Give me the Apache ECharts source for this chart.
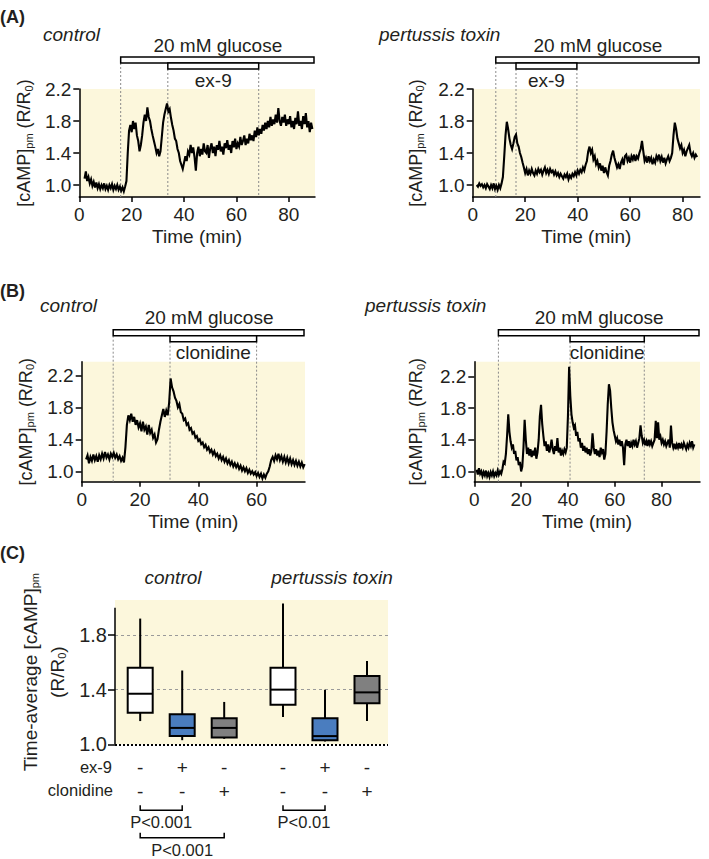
<!DOCTYPE html>
<html><head><meta charset="utf-8">
<script src="https://cdn.jsdelivr.net/npm/echarts@6/dist/echarts.min.js"></script>
<style>html,body{margin:0;padding:0;background:#fff}#c{width:709px;height:859px}</style>
</head><body><div id="c"></div>
<script>
// ---------- DATA ----------
// Panel A, control (time in min, sampled every 0.5 min)
const aCtrlT0 = 2, aCtrlDt = 0.5;
const aCtrlVals = [1.08,1.17,1.05,1.10,1.02,1.07,0.99,1.04,0.97,1.03,0.96,1.01,0.95,1.00,0.96,1.02,0.95,0.99,0.94,1.00,0.96,1.01,0.94,0.99,0.95,1.00,0.94,0.98,0.93,
0.97,0.92,0.98,1.05,
1.40,1.68,1.75,1.66,1.80,1.70,1.78,1.62,1.55,1.42,1.50,1.62,1.78,1.88,1.80,1.97,1.85,1.80,1.70,1.62,1.55,1.48,1.40,1.45,
1.36,1.42,1.60,1.78,1.88,1.95,2.02,1.92,1.95,1.84,1.75,1.68,1.58,1.55,1.45,1.40,1.30,1.25,1.20,1.28,
1.36,1.30,1.42,1.38,1.50,1.40,1.47,1.35,1.18,1.40,1.48,1.36,1.45,1.38,1.52,1.42,1.40,1.50,1.34,1.46,
1.52,1.40,1.48,1.36,1.50,1.44,1.55,1.42,1.48,1.38,1.52,1.46,1.56,1.44,1.50,1.40,1.55,1.47,1.58,1.45,
1.52,1.48,1.60,1.50,1.55,1.62,1.50,1.58,1.52,1.64,1.56,1.62,1.55,1.68,1.60,1.72,1.62,1.70,1.64,1.75,
1.68,1.78,1.70,1.80,1.72,1.85,1.74,1.82,1.76,1.88,1.78,1.96,1.80,1.74,1.85,1.78,1.88,1.74,1.82,1.76,
1.86,1.72,1.80,1.70,1.84,1.76,1.92,1.74,1.80,1.70,1.86,1.76,1.90,1.72,1.80,1.66,1.78,1.70];
const aCtrlGlucose = [15.8, 90];
const aCtrlEx9 = [33.8, 68.5];

// Panel A, pertussis toxin
const aPtxT0 = 1.5, aPtxDt = 0.5;
const aPtxVals = [1.00,0.98,1.02,0.99,1.01,0.97,1.00,0.96,1.01,0.98,0.95,1.00,0.96,1.02,0.95,0.99,0.94,1.00,0.96,1.02,
1.10,1.35,1.62,1.79,1.70,1.58,1.50,1.45,1.52,1.60,1.63,1.52,1.48,1.40,1.35,1.28,1.22,1.15,1.20,1.12,
1.18,1.14,1.20,1.15,1.12,1.18,1.14,1.20,1.16,1.19,1.13,1.18,1.22,1.15,1.19,1.14,1.20,1.16,1.18,1.13,
1.17,1.12,1.15,1.10,1.14,1.11,1.08,1.13,1.10,1.14,1.07,1.12,1.09,1.14,1.11,1.16,1.12,1.18,1.14,1.19,
1.16,1.22,1.18,1.25,1.30,1.42,1.48,1.40,1.44,1.32,1.36,1.26,1.30,1.22,1.27,1.18,1.24,1.15,1.22,1.16,
1.12,1.24,1.30,1.38,1.43,1.34,1.28,1.22,1.26,1.20,1.28,1.32,1.25,1.36,1.38,1.30,1.34,1.28,1.36,1.32,
1.38,1.30,1.36,1.33,1.40,1.45,1.55,1.42,1.30,1.34,1.28,1.36,1.30,1.34,1.26,1.32,1.28,1.36,1.32,1.38,
1.30,1.35,1.28,1.34,1.27,1.32,1.36,1.30,1.34,1.40,1.62,1.78,1.70,1.58,1.52,1.46,1.50,1.40,1.44,1.36,
1.42,1.46,1.50,1.40,1.36,1.40,1.34,1.38,1.35];
const aPtxGlucose = [8.8, 86.6];
const aPtxEx9 = [16.5, 39.7];

// Panel B, control
const bCtrlT0 = 1.5, bCtrlDt = 0.5;
const bCtrlVals = [1.15,1.20,1.10,1.18,1.13,1.21,1.14,1.19,1.12,1.20,1.15,1.22,1.16,1.24,1.17,1.21,1.15,1.22,1.18,1.23,
1.17,1.21,1.15,1.19,1.13,1.17,1.11,1.30,1.58,1.70,1.64,1.72,1.62,1.68,1.58,1.64,1.55,1.60,1.50,1.62,
1.52,1.56,1.46,1.58,1.48,1.52,1.42,1.46,1.36,1.40,1.52,1.62,1.70,1.78,1.68,1.76,1.70,1.86,2.16,2.05,
2.00,1.92,1.88,1.80,1.84,1.74,1.72,1.64,1.66,1.58,1.60,1.52,1.54,1.47,1.49,1.42,1.44,1.38,1.40,1.34,
1.36,1.30,1.33,1.27,1.30,1.24,1.27,1.21,1.25,1.19,1.22,1.16,1.20,1.14,1.18,1.12,1.16,1.10,1.14,1.08,
1.12,1.06,1.10,1.05,1.09,1.03,1.07,1.01,1.05,1.00,1.04,0.98,1.02,0.97,1.00,0.96,0.99,0.94,0.98,0.93,
0.97,0.91,0.96,0.92,0.97,1.00,1.06,1.14,1.18,1.13,1.20,1.15,1.22,1.14,1.19,1.12,1.18,1.11,1.17,1.10,
1.16,1.09,1.14,1.08,1.13,1.07,1.12,1.06,1.11,1.05,1.09];
const bCtrlGlucose = [10.8, 76.6];
const bCtrlClon = [30.3, 60.0];

// Panel B, pertussis toxin
const bPtxT0 = 1, bPtxDt = 0.5;
const bPtxVals = [1.02,0.96,1.04,0.97,1.00,0.94,0.99,0.95,1.01,0.94,0.98,0.93,0.99,0.95,1.00,0.94,0.98,0.95,1.01,0.96,
1.00,0.97,1.03,1.12,1.10,1.22,1.45,1.72,1.50,1.38,1.30,1.34,1.22,1.26,1.14,1.18,1.08,1.12,1.00,1.06,
1.30,1.65,1.40,1.22,1.30,1.20,1.28,1.18,1.26,1.20,1.30,1.16,1.24,1.40,1.70,1.84,1.60,1.45,1.32,1.38,
1.26,1.34,1.24,1.30,1.40,1.28,1.22,1.32,1.26,1.42,1.24,1.30,1.20,1.26,1.22,1.28,1.24,1.30,1.70,2.32,
1.95,1.72,1.62,1.55,1.58,1.45,1.50,1.38,1.42,1.30,1.36,1.26,1.32,1.24,1.30,1.22,1.28,1.20,1.26,1.48,
1.30,1.22,1.28,1.20,1.26,1.18,1.30,1.24,1.28,1.15,1.22,1.50,1.85,2.10,2.02,1.80,1.62,1.52,1.45,1.38,
1.42,1.34,1.40,1.32,1.38,1.30,1.08,1.34,1.40,1.32,1.38,1.30,1.36,1.32,1.40,1.34,1.38,1.30,1.36,1.42,
1.58,1.45,1.36,1.40,1.33,1.38,1.32,1.40,1.34,1.38,1.32,1.36,1.40,1.64,1.42,1.62,1.40,1.44,1.36,1.40,
1.34,1.38,1.32,1.36,1.40,1.30,1.58,1.36,1.30,1.35,1.28,1.34,1.30,1.36,1.29,1.34,1.30,1.36,1.32,1.28,
1.34,1.30,1.36,1.32,1.38,1.30,1.34];
const bPtxGlucose = [10.3, 96.4];
const bPtxClon = [40.9, 72.6];

// Panel C, box plots
const boxX   = [1, 2, 3, 4.4, 5.4, 6.4];
const boxMin = [1.17, 1.03, 1.04, 1.20, 1.02, 1.17];
const boxQ1  = [1.23, 1.06, 1.05, 1.29, 1.03, 1.30];
const boxMed = [1.37, 1.12, 1.12, 1.40, 1.06, 1.38];
const boxQ3  = [1.56, 1.22, 1.19, 1.56, 1.19, 1.50];
const boxMax = [1.92, 1.54, 1.31, 2.03, 1.40, 1.61];
const ex9Signs  = ['-', '+', '-', '-', '+', '-'];
const clonSigns = ['-', '-', '+', '-', '-', '+'];
const compFrom  = [1, 1, 4.4];
const compTo    = [2, 3, 5.4];
const compText  = ['P<0.001', 'P<0.001', 'P<0.01'];
const compLevel = [0, 1, 0];

const traceYTicks = [1.0, 1.4, 1.8, 2.2];
const cYTicks = [1.0, 1.4, 1.8];

// ---------- STYLE ----------
const FONT = '"Liberation Sans", Arial, Helvetica, sans-serif';
const TXT = '#231f20';
const BG = '#fcf7dc';
const boxFill = ['#ffffff', '#4a7dbf', '#808080', '#ffffff', '#4a7dbf', '#808080'];

function series(t0, dt, vals) { return vals.map((v, i) => [t0 + i * dt, v]); }

const chart = echarts.init(document.getElementById('c'), null, {renderer: 'svg'});

const grids = [
  {left: 79.3, top: 89, width: 235.7, height: 108},
  {left: 472.7, top: 89, width: 227.3, height: 108},
  {left: 81.7, top: 361.7, width: 223.3, height: 120},
  {left: 474.3, top: 361.7, width: 225.7, height: 120},
  {left: 115, top: 600, width: 273, height: 144.3}
].map(g => Object.assign({show: true, backgroundColor: BG, borderWidth: 0}, g));

const traceCfg = [
  {xMax: 90,   yMin: 0.85, yMax: 2.2,   xTicks: [0,20,40,60,80], gap: 45},
  {xMax: 86.6, yMin: 0.85, yMax: 2.2,   xTicks: [0,20,40,60,80], gap: 47},
  {xMax: 76.6, yMin: 0.87, yMax: 2.37,  xTicks: [0,20,40,60],    gap: 46},
  {xMax: 96.4, yMin: 0.87, yMax: 2.385, xTicks: [0,20,40,60,80], gap: 48}
];

const axisLineStyle = {color: '#000', width: 1.5};
const xAxes = [], yAxes = [];
traceCfg.forEach((c, i) => {
  xAxes.push({
    type: 'value', gridIndex: i, min: 0, max: c.xMax,
    axisLine: {show: true, onZero: false, lineStyle: axisLineStyle},
    axisTick: {show: true, length: 5, customValues: c.xTicks, lineStyle: axisLineStyle},
    axisLabel: {customValues: c.xTicks, fontSize: 19, fontFamily: FONT, color: TXT, margin: 8},
    splitLine: {show: false},
    name: 'Time (min)', nameLocation: 'middle', nameGap: 30,
    nameTextStyle: {fontSize: 19, fontFamily: FONT, color: TXT}
  });
  yAxes.push({
    type: 'value', gridIndex: i, min: c.yMin, max: c.yMax,
    axisLine: {show: true, onZero: false, lineStyle: axisLineStyle},
    axisTick: {show: true, length: 6, customValues: traceYTicks, lineStyle: axisLineStyle},
    axisLabel: {customValues: traceYTicks, fontSize: 19, fontFamily: FONT, color: TXT, margin: 8,
                formatter: v => v.toFixed(1)},
    splitLine: {show: false},
    name: '[cAMP]{sub|pm} (R/R{sub|0})', nameLocation: 'middle', nameRotate: 90, nameGap: c.gap,
    nameTextStyle: {fontSize: 18, fontFamily: FONT, color: TXT,
      rich: {sub: {fontSize: 11, fontFamily: FONT, color: TXT, padding: [9, 0, 0, 0]}}}
  });
});
// Panel C axes
xAxes.push({
  type: 'value', gridIndex: 4, min: 0.4, max: 6.9,
  axisLine: {show: false}, axisTick: {show: false}, splitLine: {show: false},
  axisLabel: {customValues: boxX, fontSize: 19, fontFamily: FONT, color: TXT, margin: 11, lineHeight: 24,
    formatter: v => { const i = boxX.findIndex(x => Math.abs(x - v) < 1e-6); return i < 0 ? '' : ex9Signs[i] + '\n' + clonSigns[i]; }}
});
yAxes.push({
  type: 'value', gridIndex: 4, min: 1.0, max: 2.056,
  axisLine: {show: false},
  axisTick: {show: true, length: 7, customValues: cYTicks, lineStyle: axisLineStyle},
  axisLabel: {customValues: cYTicks, fontSize: 20, fontFamily: FONT, color: TXT, margin: 8, formatter: v => v.toFixed(1)},
  splitLine: {show: false},
  name: 'Time-average [cAMP]{sub|pm}\n(R/R{sub|0})', nameLocation: 'middle', nameRotate: 90, nameGap: 44,
  nameTextStyle: {fontSize: 19, fontFamily: FONT, color: TXT, lineHeight: 27,
    rich: {sub: {fontSize: 11, fontFamily: FONT, color: TXT, padding: [9, 0, 0, 0], lineHeight: 27}}}
});

function protoSeries(idx, glu, drug, drugName) {
  return {
    type: 'custom', xAxisIndex: idx, yAxisIndex: idx, clip: false, silent: true, z: 1,
    data: [[glu[0], glu[1], drug[0], drug[1]]], encode: {x: [0, 1, 2, 3]},
    renderItem: (params, api) => {
      const cs = params.coordSys; const top = cs.y, bot = cs.y + cs.height;
      const gx0 = api.coord([api.value(0), 1])[0], gx1 = api.coord([api.value(1), 1])[0];
      const dx0 = api.coord([api.value(2), 1])[0], dx1 = api.coord([api.value(3), 1])[0];
      const gTop = top - 32, gBot = top - 26, dBot = top - 20;
      const dash = {stroke: '#8a8a8a', lineWidth: 1, lineDash: [2, 2]};
      return {type: 'group', children: [
        {type: 'line', shape: {x1: gx0, y1: gBot, x2: gx0, y2: bot}, style: dash},
        {type: 'line', shape: {x1: dx0, y1: dBot, x2: dx0, y2: bot}, style: dash},
        {type: 'line', shape: {x1: dx1, y1: dBot, x2: dx1, y2: bot}, style: dash},
        {type: 'rect', shape: {x: gx0, y: gTop, width: gx1 - gx0 - 1, height: gBot - gTop}, style: {fill: '#fff', stroke: '#000', lineWidth: 1.5}},
        {type: 'rect', shape: {x: dx0, y: gBot, width: dx1 - dx0, height: dBot - gBot}, style: {fill: '#fff', stroke: '#000', lineWidth: 1.5}},
        {type: 'text', style: {text: '20 mM glucose', x: (gx0 + gx1) / 2, y: top - 44, align: 'center', verticalAlign: 'middle', fontSize: 19, fontFamily: FONT, fill: TXT}},
        {type: 'text', style: {text: drugName, x: (dx0 + dx1) / 2, y: top - 9, align: 'center', verticalAlign: 'middle', fontSize: 19, fontFamily: FONT, fill: TXT}}
      ]};
    }
  };
}

function traceSeries(idx, data) {
  return {type: 'line', xAxisIndex: idx, yAxisIndex: idx, data: data, showSymbol: false, symbol: 'none',
    lineStyle: {color: '#000', width: 2.1, join: 'miter'}, silent: true, z: 3, clip: true};
}

const boxData = boxX.map((x, i) => [x, boxMin[i], boxQ1[i], boxMed[i], boxQ3[i], boxMax[i]]);
const compData = compFrom.map((f, i) => [f, compTo[i], compLevel[i]]);

const option = {
  animation: false,
  grid: grids,
  xAxis: xAxes,
  yAxis: yAxes,
  series: [
    protoSeries(0, aCtrlGlucose, aCtrlEx9, 'ex-9'),
    protoSeries(1, aPtxGlucose, aPtxEx9, 'ex-9'),
    protoSeries(2, bCtrlGlucose, bCtrlClon, 'clonidine'),
    protoSeries(3, bPtxGlucose, bPtxClon, 'clonidine'),
    traceSeries(0, series(aCtrlT0, aCtrlDt, aCtrlVals)),
    traceSeries(1, series(aPtxT0, aPtxDt, aPtxVals)),
    traceSeries(2, series(bCtrlT0, bCtrlDt, bCtrlVals)),
    traceSeries(3, series(bPtxT0, bPtxDt, bPtxVals)),
    // Panel C reference lines + y axis line
    {type: 'line', xAxisIndex: 4, yAxisIndex: 4, data: [], silent: true, z: 0,
     markLine: {silent: true, symbol: 'none', animation: false, label: {show: false}, z: 0,
       data: [
         {yAxis: 1.4, lineStyle: {color: '#9a9a9a', type: [3, 3], width: 1}},
         {yAxis: 1.8, lineStyle: {color: '#9a9a9a', type: [3, 3], width: 1}},
         {yAxis: 1.0, lineStyle: {color: '#000', type: [2, 2], width: 2.2}},
         [{coord: [0.4, 1.0], lineStyle: {color: '#000', type: 'solid', width: 1.5}}, {coord: [0.4, 2.0]}]
       ]}},
    {type: 'custom', xAxisIndex: 4, yAxisIndex: 4, z: 10, silent: true, clip: false,
     data: boxData, encode: {x: 0, y: [1, 2, 3, 4, 5]},
     renderItem: (params, api) => {
       const x = api.value(0);
       const pMin = api.coord([x, api.value(1)]), pQ1 = api.coord([x, api.value(2)]);
       const pMed = api.coord([x, api.value(3)]), pQ3 = api.coord([x, api.value(4)]);
       const pMax = api.coord([x, api.value(5)]);
       const w = 25, cx = pMin[0];
       return {type: 'group', children: [
         {type: 'line', shape: {x1: cx, y1: pMax[1], x2: cx, y2: pMin[1]}, style: {stroke: '#000', lineWidth: 2}},
         {type: 'rect', shape: {x: cx - w / 2, y: pQ3[1], width: w, height: pQ1[1] - pQ3[1]}, style: {fill: boxFill[params.dataIndex], stroke: '#000', lineWidth: 2}},
         {type: 'line', shape: {x1: cx - w / 2, y1: pMed[1], x2: cx + w / 2, y2: pMed[1]}, style: {stroke: '#000', lineWidth: 2}}
       ]};
     }},
    {type: 'custom', xAxisIndex: 4, yAxisIndex: 4, z: 10, silent: true, clip: false,
     data: compData, encode: {x: [0, 1]},
     renderItem: (params, api) => {
       const a = api.coord([api.value(0), 1.0]), b = api.coord([api.value(1), 1.0]);
       const lvl = api.value(2);
       const yTop = a[1] + 61 + lvl * 27.5, yBot = yTop + 5;
       return {type: 'group', children: [
         {type: 'polyline', shape: {points: [[a[0], yTop], [a[0], yBot], [b[0], yBot], [b[0], yTop]]}, style: {stroke: '#000', lineWidth: 1.5, fill: null}},
         {type: 'text', style: {text: compText[params.dataIndex], x: (a[0] + b[0]) / 2, y: yBot + 12, align: 'center', verticalAlign: 'middle', fontSize: 16.5, fontFamily: FONT, fill: TXT}}
       ]};
     }}
  ],
  graphic: [
    {type: 'text', x: 0, y: 17, style: {text: '(A)', fontSize: 18, fontWeight: 'bold', fontFamily: FONT, fill: TXT, verticalAlign: 'middle'}},
    {type: 'text', x: 43, y: 34, style: {text: 'control', fontSize: 19, fontStyle: 'italic', fontFamily: FONT, fill: TXT, verticalAlign: 'middle'}},
    {type: 'text', x: 379, y: 34, style: {text: 'pertussis toxin', fontSize: 19, fontStyle: 'italic', fontFamily: FONT, fill: TXT, verticalAlign: 'middle'}},
    {type: 'text', x: 0, y: 291, style: {text: '(B)', fontSize: 18, fontWeight: 'bold', fontFamily: FONT, fill: TXT, verticalAlign: 'middle'}},
    {type: 'text', x: 40, y: 305, style: {text: 'control', fontSize: 19, fontStyle: 'italic', fontFamily: FONT, fill: TXT, verticalAlign: 'middle'}},
    {type: 'text', x: 365, y: 305, style: {text: 'pertussis toxin', fontSize: 19, fontStyle: 'italic', fontFamily: FONT, fill: TXT, verticalAlign: 'middle'}},
    {type: 'text', x: 0, y: 553, style: {text: '(C)', fontSize: 18, fontWeight: 'bold', fontFamily: FONT, fill: TXT, verticalAlign: 'middle'}},
    {type: 'text', x: 173, y: 577, style: {text: 'control', fontSize: 19, fontStyle: 'italic', fontFamily: FONT, fill: TXT, align: 'center', verticalAlign: 'middle'}},
    {type: 'text', x: 332, y: 577, style: {text: 'pertussis toxin', fontSize: 19, fontStyle: 'italic', fontFamily: FONT, fill: TXT, align: 'center', verticalAlign: 'middle'}},
    {type: 'text', x: 112, y: 767, style: {text: 'ex-9', fontSize: 16.5, fontFamily: FONT, fill: TXT, align: 'right', verticalAlign: 'middle'}},
    {type: 'text', x: 113, y: 790, style: {text: 'clonidine', fontSize: 16.5, fontFamily: FONT, fill: TXT, align: 'right', verticalAlign: 'middle'}}
  ]
};
chart.setOption(option);
</script></body></html>
